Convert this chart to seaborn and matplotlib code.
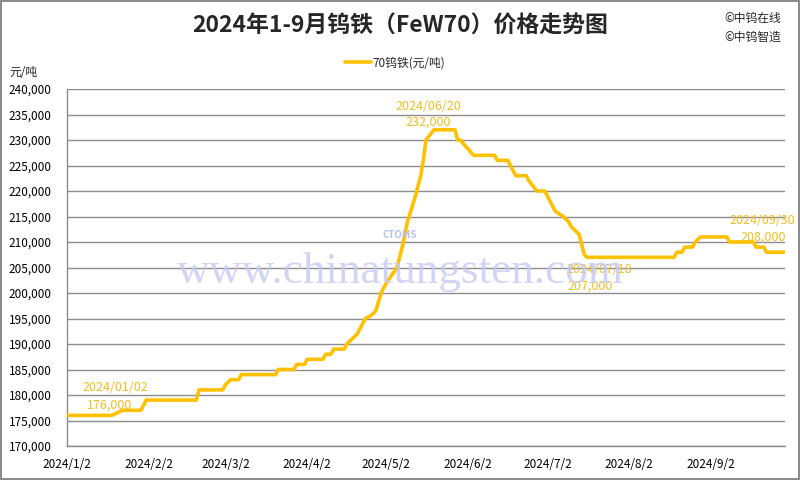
import pandas as pd
import matplotlib
matplotlib.use("Agg")
import matplotlib.pyplot as plt
import matplotlib.ticker as mticker
import seaborn as sns

# price break points (date, yuan/ton)
dates = ["2024-01-02", "2024-01-19", "2024-01-23", "2024-01-30", "2024-01-31", "2024-02-01",
         "2024-02-20", "2024-02-21", "2024-03-01", "2024-03-02", "2024-03-04", "2024-03-07",
         "2024-03-08", "2024-03-21", "2024-03-22", "2024-03-28", "2024-03-29", "2024-04-01",
         "2024-04-02", "2024-04-08", "2024-04-09", "2024-04-11", "2024-04-12", "2024-04-16",
         "2024-04-17", "2024-04-19", "2024-04-21", "2024-04-24", "2024-04-26", "2024-04-28",
         "2024-04-30", "2024-05-02", "2024-05-06", "2024-05-08", "2024-05-10", "2024-05-13",
         "2024-05-15", "2024-05-16", "2024-05-17", "2024-05-20", "2024-05-28", "2024-05-29",
         "2024-05-30", "2024-06-04", "2024-06-12", "2024-06-13", "2024-06-17", "2024-06-18",
         "2024-06-20", "2024-06-24", "2024-06-25", "2024-06-28", "2024-07-01", "2024-07-05",
         "2024-07-08", "2024-07-10", "2024-07-11", "2024-07-14", "2024-07-16", "2024-07-17",
         "2024-08-19", "2024-08-20", "2024-08-22", "2024-08-23", "2024-08-26", "2024-08-27",
         "2024-08-29", "2024-09-08", "2024-09-09", "2024-09-18", "2024-09-19", "2024-09-22",
         "2024-09-23", "2024-09-30"]
prices = [176000, 176000, 177000, 177000, 178000, 179000,
          179000, 181000, 181000, 182000, 183000, 183000,
          184000, 184000, 185000, 185000, 186000, 186000,
          187000, 187000, 188000, 188000, 189000, 189000,
          190000, 191000, 192000, 195000, 195500, 196500,
          200000, 202000, 205000, 209000, 214000, 219000,
          223000, 226000, 230000, 232000, 232000, 230000,
          230000, 227000, 227000, 226000, 226000, 225000,
          223000, 223000, 222000, 220000, 220000, 216000,
          215000, 214000, 213000, 211500, 207500, 207000,
          207000, 208000, 208000, 209000, 209000, 210000,
          211000, 211000, 210000, 210000, 209000, 209000,
          208000, 208000]

tick_dates = ["2024-01-02", "2024-02-02", "2024-03-02", "2024-04-02", "2024-05-02",
              "2024-06-02", "2024-07-02", "2024-08-02", "2024-09-02"]
tick_labels = ["2024/1/2", "2024/2/2", "2024/3/2", "2024/4/2", "2024/5/2",
               "2024/6/2", "2024/7/2", "2024/8/2", "2024/9/2"]

# labelled points: (date label, price label)
notes = [("2024/01/02", "176,000"), ("2024/06/20", "232,000"),
         ("2024/07/18", "207,000"), ("2024/09/30", "208,000")]

df = pd.DataFrame({"date": pd.to_datetime(dates), "price": prices})

sns.set_style("white")
plt.rcParams['font.family'] = ['Noto Sans CJK SC', 'DejaVu Sans']

line_color = "#FFC000"
note_color = "#F0BE1E"
grid_color = "#8C8C8C"

fig = plt.figure(figsize=(8, 4.8), dpi=100)
fig.patch.set_edgecolor("#8C8C8C")
fig.patch.set_linewidth(1.5)
ax = fig.add_axes([67 / 800, 34 / 480, 718 / 800, 357 / 480])

# watermark
fig.text(0.5, 0.433, "www.chinatungsten.com", family="Liberation Serif", fontsize=32.5,
         color="#C6CAF3", ha="center", va="center", alpha=0.8, zorder=0)
fig.text(0.5, 0.51, "CTOMS", fontsize=7, fontweight="bold", style="italic",
         color="#B8C0EE", ha="center", va="center", zorder=0)

sns.lineplot(data=df, x="date", y="price", ax=ax, color=line_color, linewidth=2.6,
             label="70钨铁(元/吨)", zorder=3)

ax.set_xlim(pd.Timestamp("2024-01-02"), pd.Timestamp("2024-09-30"))
ax.set_ylim(170000, 240000)
ax.yaxis.set_major_locator(mticker.MultipleLocator(5000))
ax.yaxis.set_major_formatter(mticker.FuncFormatter(lambda v, p: f"{int(v):,}"))
ax.set_xticks(pd.to_datetime(tick_dates))
ax.set_xticklabels(tick_labels)
ax.set_xlabel("")
ax.set_ylabel("")

ax.grid(axis="y", color=grid_color, linewidth=1)
ax.set_axisbelow(True)
for s in ["top", "right"]:
    ax.spines[s].set_visible(False)
for s in ["left", "bottom"]:
    ax.spines[s].set_color(grid_color)
    ax.spines[s].set_linewidth(1)
ax.tick_params(axis="both", labelsize=8.5, colors="black", length=5, width=1,
               direction="out", color=grid_color, pad=6)
ax.tick_params(axis="x", pad=4)

ax.legend(loc="center", bbox_to_anchor=(0.457, 1.073), frameon=False, fontsize=8.5,
          handlelength=2.2, handletextpad=0.2)

# annotations
note_pos = [((0.068, 0.165), (0.060, 0.115)),
            ((0.503, 0.952), (0.503, 0.908)),
            ((0.742, 0.493), (0.728, 0.448)),
            ((0.969, 0.633), (0.969, 0.585))]
for (d, v), (p1, p2) in zip(notes, note_pos):
    ax.text(p1[0], p1[1], d, transform=ax.transAxes, color=note_color, fontsize=9,
            ha="center", va="center", zorder=4)
    ax.text(p2[0], p2[1], v, transform=ax.transAxes, color=note_color, fontsize=9,
            ha="center", va="center", zorder=4)

fig.text(0.5, 0.945, "2024年1-9月钨铁（FeW70）价格走势图", fontsize=16.5, fontweight="bold",
         ha="center", va="center")
fig.text(0.906, 0.962, "©中钨在线", fontsize=8.5, ha="left", va="center")
fig.text(0.906, 0.922, "©中钨智造", fontsize=8.5, ha="left", va="center")
fig.text(0.012, 0.848, "元/吨", fontsize=8.5, ha="left", va="center")

fig.savefig("out.png", dpi=100, edgecolor=fig.get_edgecolor())
